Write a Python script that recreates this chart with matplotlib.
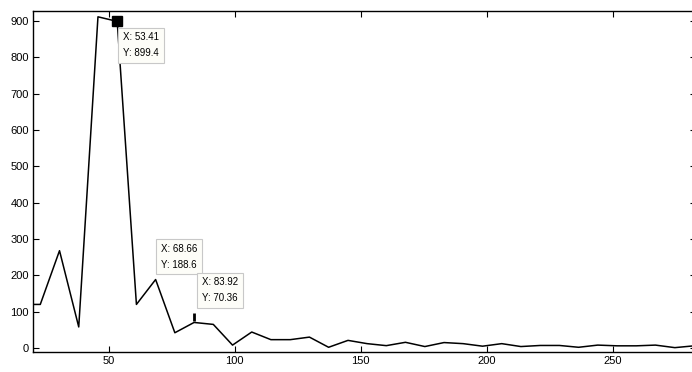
import numpy as np
import matplotlib
matplotlib.use('Agg')
import matplotlib.pyplot as plt

# frequency bins (spacing ~7.63) and magnitude
freq = [15.26, 22.89, 30.52, 38.15, 45.78, 53.41, 61.04, 68.66, 76.29, 83.92,
        91.55, 99.18, 106.8, 114.4, 122.1, 129.7, 137.3, 145.0, 152.6, 160.2,
        167.8, 175.5, 183.1, 190.7, 198.4, 206.0, 213.6, 221.3, 228.9, 236.5,
        244.1, 251.8, 259.4, 267.0, 274.7, 282.3]
mag = [120, 120, 268, 58, 912, 899.4, 120, 188.6, 42, 70.36,
       65, 8, 44, 23, 23, 30, 2, 21, 12, 6.5,
       15.7, 4, 15, 12, 5, 12, 4, 7, 7, 2,
       8, 6, 6, 8, 1, 6]

# data tips: x, y, label offset in pixels, vertical alignment
tips = [(53.41, 899.4, (6, -11), 'top'),
        (68.66, 188.6, (5, 10), 'bottom'),
        (83.92, 70.36, (8, 19), 'bottom')]

plt.rcParams['font.family'] = ['Liberation Sans', 'DejaVu Sans']

fig = plt.figure(figsize=(6.92, 3.72), dpi=100)
ax = fig.add_axes([33/692, 1 - 352/372, 263*2.52/692, (352 - 11)/372])

ax.plot(freq, mag, color='black', lw=1.1)

ax.set_xlim(20, 283)
ax.set_ylim(-11, 928)
ax.set_xticks([50, 100, 150, 200, 250])
ax.set_yticks(range(0, 1000, 100))
ax.tick_params(direction='in', top=True, right=True, length=4.5, width=0.8,
               labelsize=8, pad=3)
for s in ax.spines.values():
    s.set_linewidth(1.0)

for x, y, off, va in tips:
    if x == 53.41:
        ax.plot(x, y, marker='s', color='black', ms=7)
    elif x == 83.92:
        ax.plot(x, y + 16, marker='|', color='black', ms=6, mew=2)
    ax.annotate('X: %.2f\nY: %s' % (x, ('%.4g' % y)), xy=(x, y),
                xytext=off, textcoords='offset pixels', ha='left', va=va,
                fontsize=7, linespacing=1.75,
                bbox=dict(boxstyle='square,pad=0.5', fc='#fdfdf8',
                          ec='#c8c8c8', lw=0.8))

fig.savefig('out.png', dpi=100)
